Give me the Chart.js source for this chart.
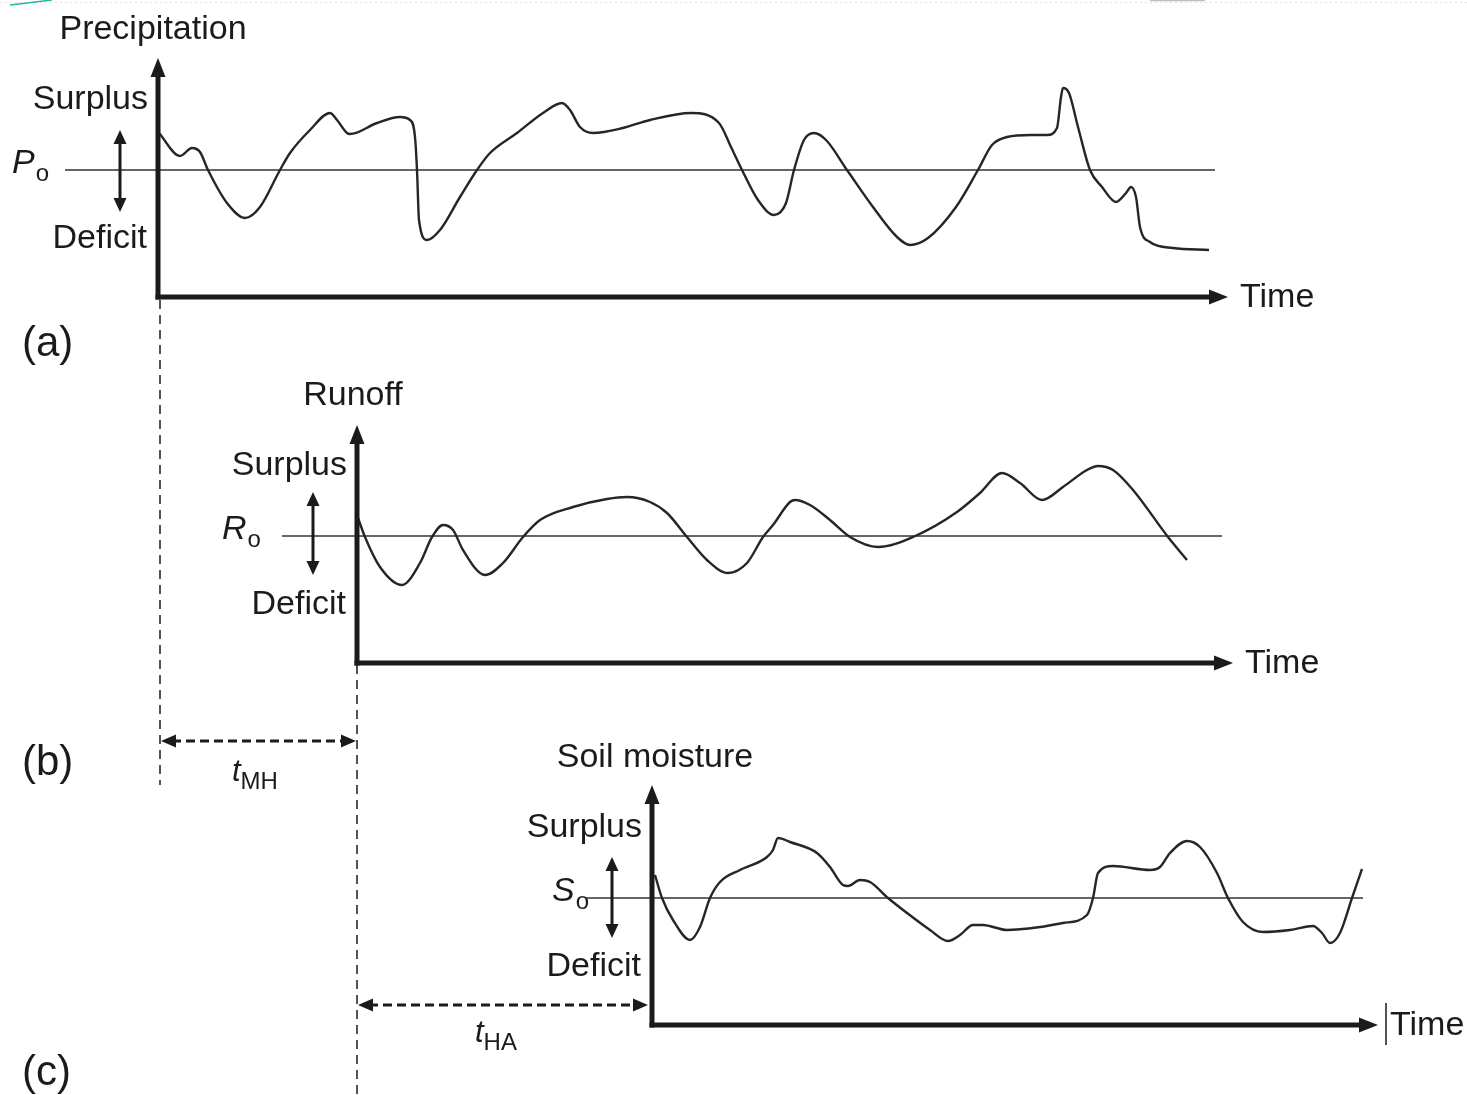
<!DOCTYPE html>
<html>
<head>
<meta charset="utf-8">
<script src="https://cdn.jsdelivr.net/npm/chart.js@4.4.1/dist/chart.umd.min.js"></script>
<style>
  html, body { margin: 0; padding: 0; background: #fff; }
  #wrap { width: 1467px; height: 1095px; }
</style>
</head>
<body>
<div id="wrap"><canvas id="lagChart" width="1467" height="1095"></canvas></div>
<script>
// time since each panel's vertical axis, and anomaly above / below the reference level
const precipTime = [1, 22, 34, 42, 50, 69, 87, 102, 122, 132, 152, 172, 179, 189, 192, 219, 242, 252, 257, 259,
  261, 269, 282, 302, 319, 332, 359, 385, 404, 412, 422, 435, 465, 492, 533, 561, 573, 584, 600, 616,
  628, 636, 646, 656, 668, 689, 715, 739, 752, 770, 798, 820, 834, 849, 873, 889, 899, 903, 905, 911,
  920, 932, 944, 958, 968, 973, 978, 982, 992, 1015, 1051];
const precipAnom = [37, 14, 22, 18, 0, -33, -48, -37, 0, 17, 40, 57, 50, 37, 36, 47, 53, 50, 33, 0,
  -50, -70, -60, -27, 0, 17, 37, 57, 67, 60, 43, 37, 42, 50, 57, 47, 23, 0, -30, -45,
  -33, 0, 30, 37, 30, 0, -37, -67, -75, -68, -37, 0, 25, 33, 35, 35, 42, 73, 82, 77,
  43, 0, -17, -32, -23, -17, -27, -57, -72, -78, -80];

const runoffTime = [1, 8, 23, 45, 63, 75, 86, 96, 106, 128, 146, 166, 183, 216, 250, 270, 293, 310, 330, 350,
  371, 390, 406, 416, 433, 438, 453, 473, 493, 521, 556, 600, 623, 645, 663, 685, 706, 730, 741, 756,
  776, 811, 830];
const runoffAnom = [18, -1, -31, -49, -27, -1, 11, 6, -14, -39, -27, -1, 16, 29, 37, 39, 34, 23, -1, -24,
  -37, -27, -1, 11, 34, 36, 31, 16, -1, -11, -1, 24, 43, 63, 53, 36, 49, 66, 70, 66,
  46, -1, -24];

const soilTime = [3, 10, 21, 38, 48, 58, 68, 88, 115, 121, 126, 138, 165, 178, 191, 196, 208, 218, 236, 255,
  278, 296, 308, 321, 331, 355, 388, 411, 435, 441, 446, 461, 498, 508, 518, 535, 548, 565, 576, 591,
  611, 638, 661, 670, 678, 688, 700, 710];
const soilAnom = [23, 0, -22, -42, -29, 0, 16, 28, 41, 48, 60, 56, 45, 31, 13, 12, 18, 16, 0, -15,
  -32, -43, -37, -27, -27, -32, -29, -25, -17, 0, 25, 32, 28, 31, 45, 57, 51, 25, 0, -24,
  -34, -32, -28, -35, -45, -35, 0, 29];

const panelTitles = ['Precipitation', 'Runoff', 'Soil moisture'];
const refSymbols = ['P', 'R', 'S'];
const panelLetters = ['(a)', '(b)', '(c)'];
const lagNames = ['MH', 'HA'];

const W = 1467, H = 1095;
const FONT = '"Liberation Sans", Arial, Helvetica, sans-serif';
const INK = '#1b1b1b';

// where each panel sits on the page (origin of its axes and reference line)
const panels = [
  { id: 'a', x0: 158, base: 170, top: 112, bottom: -127, end: 1070, refFrom: -93, refTo: 1057, refX: -146, dbl: -38, up: 40, down: -42, titleX: -5, letterV: -186 },
  { id: 'b', x0: 357, base: 536, top: 111, bottom: -127, end: 876, refFrom: -75, refTo: 865, refX: -135, dbl: -44, up: 44, down: -39, titleX: -4, letterV: -239 },
  { id: 'c', x0: 652, base: 898, top: 113, bottom: -127, end: 726, refFrom: -65, refTo: 711, refX: -100, dbl: -40, up: 41, down: -40, titleX: 3, letterV: -187 }
];

const series = [[precipTime, precipAnom], [runoffTime, runoffAnom], [soilTime, soilAnom]];

const scales = {};
panels.forEach(p => {
  scales['x' + p.id] = { type: 'linear', display: false, min: -p.x0, max: W - p.x0 };
  scales['y' + p.id] = { type: 'linear', display: false, min: p.base - H, max: p.base };
});

const datasets = panels.map((p, i) => ({
  data: series[i][0].map((t, k) => ({ x: t, y: series[i][1][k] })),
  xAxisID: 'x' + p.id,
  yAxisID: 'y' + p.id,
  borderColor: '#262626',
  borderWidth: 2.4,
  pointRadius: 0,
  fill: false,
  cubicInterpolationMode: 'monotone'
}));

function px(chart, id, t, v) {
  return [chart.scales['x' + id].getPixelForValue(t), chart.scales['y' + id].getPixelForValue(v)];
}

function head(ctx, x, y, dx, dy, len, hw) {
  ctx.beginPath();
  ctx.moveTo(x, y);
  ctx.lineTo(x - dx * len - dy * hw, y - dy * len + dx * hw);
  ctx.lineTo(x - dx * len + dy * hw, y - dy * len - dx * hw);
  ctx.closePath();
  ctx.fill();
}

function seg(ctx, x1, y1, x2, y2) {
  ctx.beginPath();
  ctx.moveTo(x1, y1);
  ctx.lineTo(x2, y2);
  ctx.stroke();
}

const diagram = {
  id: 'diagram',
  beforeDatasetsDraw(chart) {
    const ctx = chart.ctx;
    ctx.save();
    // faint page edge decoration
    ctx.strokeStyle = '#e2e2e2';
    ctx.lineWidth = 1;
    ctx.setLineDash([2, 3]);
    seg(ctx, 0, 2.5, W, 2.5);
    ctx.setLineDash([]);
    ctx.strokeStyle = '#2cb59e';
    ctx.lineWidth = 1.5;
    seg(ctx, 10, 5, 52, 0);
    ctx.strokeStyle = '#bdbdbd';
    seg(ctx, 1150, 0.5, 1205, 0.5);

    ctx.strokeStyle = '#333';
    ctx.lineWidth = 1.5;
    panels.forEach(p => {
      const [a1, b1] = px(chart, p.id, p.refFrom, 0);
      const [a2] = px(chart, p.id, p.refTo, 0);
      seg(ctx, a1, b1, a2, b1);
    });
    ctx.restore();
  },
  afterDatasetsDraw(chart) {
    const ctx = chart.ctx;
    ctx.save();
    ctx.fillStyle = INK;
    ctx.strokeStyle = INK;

    panels.forEach((p, i) => {
      const [ox, oy] = px(chart, p.id, 0, p.bottom);
      const [, ty] = px(chart, p.id, 0, p.top);
      const [ex] = px(chart, p.id, p.end, 0);
      // thick axes with arrows
      ctx.lineWidth = 5;
      ctx.lineCap = 'butt';
      seg(ctx, ox, oy + 2.5, ox, ty + 16);
      seg(ctx, ox - 2.5, oy, ex - 16, oy);
      head(ctx, ox, ty, 0, -1, 19, 7.5);
      head(ctx, ex, oy, 1, 0, 19, 7.5);

      // surplus / deficit double arrow
      const [dx, du] = px(chart, p.id, p.dbl, p.up);
      const [, dd] = px(chart, p.id, p.dbl, p.down);
      ctx.lineWidth = 3;
      seg(ctx, dx, du + 12, dx, dd - 12);
      head(ctx, dx, du, 0, -1, 14, 6.5);
      head(ctx, dx, dd, 0, 1, 14, 6.5);

      // texts
      ctx.font = '34px ' + FONT;
      ctx.textBaseline = 'alphabetic';
      ctx.textAlign = 'center';
      let [x, y] = px(chart, p.id, p.titleX, 131);
      ctx.fillText(panelTitles[i], x, y);
      ctx.textAlign = 'right';
      [x, y] = px(chart, p.id, -10, 61);
      ctx.fillText('Surplus', x, y);
      [x, y] = px(chart, p.id, -11, -78);
      ctx.fillText('Deficit', x, y);
      ctx.textAlign = 'left';
      [x, y] = px(chart, p.id, p.end + 12, -137);
      ctx.fillText('Time', x, y);

      [x, y] = px(chart, p.id, p.refX, -3);
      ctx.font = 'italic 34px ' + FONT;
      ctx.fillText(refSymbols[i], x, y);
      const w = ctx.measureText(refSymbols[i]).width;
      ctx.font = '24px ' + FONT;
      ctx.fillText('o', x + w + 1, y + 8);

      ctx.font = '42px ' + FONT;
      [, y] = px(chart, p.id, 0, p.letterV);
      ctx.fillText(panelLetters[i], 22, y);
    });

    // text cursor mark before the last "Time"
    const [cx, cy] = px(chart, 'c', 734, -127);
    ctx.lineWidth = 1.5;
    seg(ctx, cx, cy - 22, cx, cy + 20);

    // lag lines between the panels
    const [l1x, l1top] = px(chart, 'a', 2, -130);
    const [, l1bot] = px(chart, 'b', 0, -249);
    const [l2x, l2top] = px(chart, 'b', 0, -129);
    const [, l2bot] = px(chart, 'b', 0, -559);
    ctx.lineWidth = 1.5;
    ctx.setLineDash([9, 6]);
    seg(ctx, l1x, l1top, l1x, l1bot);
    seg(ctx, l2x, l2top, l2x, l2bot);

    const [, mhY] = px(chart, 'b', 0, -205);
    const [c0x, haY] = px(chart, 'c', -4, -107);
    ctx.lineWidth = 3;
    ctx.setLineDash([9, 5]);
    seg(ctx, l1x + 12, mhY, l2x - 12, mhY);
    seg(ctx, l2x + 12, haY, c0x - 12, haY);
    ctx.setLineDash([]);
    head(ctx, l1x + 1, mhY, -1, 0, 15, 6.5);
    head(ctx, l2x - 1, mhY, 1, 0, 15, 6.5);
    head(ctx, l2x + 1, haY, -1, 0, 15, 6.5);
    head(ctx, c0x, haY, 1, 0, 15, 6.5);

    const lagPos = [[232, mhY + 40], [475, haY + 37]];
    lagPos.forEach(([lx, ly], k) => {
      ctx.font = 'italic 31px ' + FONT;
      ctx.fillText('t', lx, ly);
      const tw = ctx.measureText('t').width;
      ctx.font = '24px ' + FONT;
      ctx.fillText(lagNames[k], lx + tw, ly + 8);
    });
    ctx.restore();
  }
};

new Chart(document.getElementById('lagChart'), {
  type: 'line',
  data: { datasets },
  options: {
    responsive: false,
    animation: false,
    devicePixelRatio: 1,
    events: [],
    layout: { padding: 0 },
    scales,
    plugins: { legend: { display: false }, tooltip: { enabled: false } }
  },
  plugins: [diagram]
});
</script>
</body>
</html>
